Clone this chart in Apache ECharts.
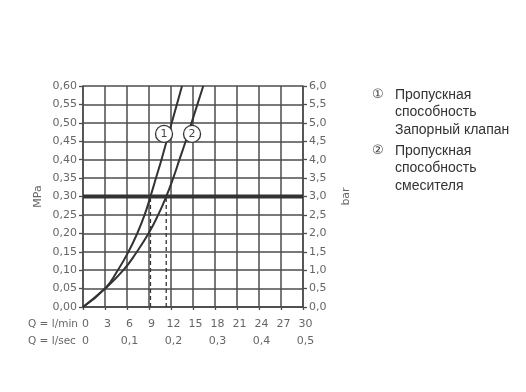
<!DOCTYPE html>
<html>
<head>
<meta charset="utf-8">
<script src="https://cdn.jsdelivr.net/npm/echarts@6/dist/echarts.min.js"></script>
<style>
html,body{margin:0;padding:0;background:#fff;}
#chart{width:526px;height:392px;}
</style>
</head>
<body>
<div id="chart"></div>
<script>
// Pressure levels (MPa)
var pressureMPa = [0, 0.05, 0.10, 0.15, 0.20, 0.25, 0.30, 0.35, 0.40, 0.45, 0.50, 0.55, 0.60];
// Flow (l/min) at each pressure level
var flowCurve1 = [0, 3.0, 4.75, 6.2, 7.4, 8.4, 9.2, 9.95, 10.7, 11.4, 12.1, 12.8, 13.5];
var flowCurve2 = [0, 3.0, 5.5, 7.35, 8.95, 10.25, 11.35, 12.3, 13.15, 14.0, 14.8, 15.6, 16.4];
// Reference pressure and flows read at it
var refPressure = 0.30;
var refFlows = [9.2, 11.35];
// Curve marker labels
var markerNames = ['1', '2'];
var markerFlows = [11.05, 14.87];
var markerPressure = 0.47;
// Legend texts
var legendItems = [
  ['\u2460', 'Пропускная\nспособность\nЗапорный клапан'],
  ['\u2461', 'Пропускная\nспособность\nсмесителя']
];
var rowLabels = ['Q = l/min', 'Q = l/sec'];

function pairs(xs, ys) { return xs.map(function (x, i) { return [x, ys[i]]; }); }

var gridColor = '#4d4d4d';
var lineColor = '#333';
var labelColor = '#666';
var font = 'DejaVu Sans';

var chart = echarts.init(document.getElementById('chart'), null, {renderer: 'canvas'});

var dashedSeries = refFlows.map(function (f) {
  return {
    type: 'line', data: [[f, 0], [f, refPressure]], symbol: 'none', silent: true,
    lineStyle: {color: lineColor, width: 1.3, type: [4, 3]}, z: 3
  };
});

var graphics = [];
rowLabels.forEach(function (t, i) {
  graphics.push({type: 'text', left: 28, top: 319 + i * 17,
    style: {text: t, fill: labelColor, font: '10.5px "' + font + '"'}});
});
legendItems.forEach(function (it, i) {
  var top = 86 + i * 56;
  graphics.push({type: 'text', left: 372, top: top + 2,
    style: {text: it[0], fill: '#444', font: '13px "Liberation Sans"'}});
  graphics.push({type: 'text', left: 395, top: top,
    style: {text: it[1], fill: '#333', font: '14px "Liberation Sans"', lineHeight: 17.5}});
});

chart.setOption({
  animation: false,
  backgroundColor: '#fff',
  grid: {left: 83, top: 86, width: 220, height: 221, containLabel: false},
  xAxis: [{
    type: 'value', min: 0, max: 30, interval: 3, position: 'bottom',
    axisLine: {show: true, onZero: false, lineStyle: {color: gridColor, width: 1.5}},
    axisTick: {show: true, length: 3, lineStyle: {color: gridColor, width: 1.3}},
    splitLine: {show: true, lineStyle: {color: gridColor, width: 1.5}},
    axisLabel: {color: labelColor, fontFamily: font, fontSize: 11, margin: 12, padding: [0, 0, 0, 5]}
  }, {
    type: 'value', min: 0, max: 0.5, interval: 0.1, position: 'bottom', offset: 17,
    axisLine: {show: false}, axisTick: {show: false}, splitLine: {show: false},
    axisLabel: {color: labelColor, fontFamily: font, fontSize: 11, margin: 12, padding: [0, 0, 0, 5],
      formatter: function (v) { return v === 0 ? '0' : v.toFixed(1).replace('.', ','); }}
  }, {
    type: 'value', min: 0, max: 30, position: 'top',
    axisLine: {show: true, lineStyle: {color: gridColor, width: 1.5}},
    axisTick: {show: false}, axisLabel: {show: false}, splitLine: {show: false}
  }],
  yAxis: [{
    type: 'value', min: 0, max: 0.6, interval: 0.05, position: 'left',
    name: 'MPa', nameLocation: 'middle', nameGap: 39, nameRotate: 90,
    nameTextStyle: {color: labelColor, fontFamily: font, fontSize: 11},
    axisLine: {show: true, onZero: false, lineStyle: {color: gridColor, width: 1.5}},
    axisTick: {show: true, length: 4, lineStyle: {color: gridColor, width: 1.3}},
    splitLine: {show: true, lineStyle: {color: gridColor, width: 1.5}},
    axisLabel: {color: labelColor, fontFamily: font, fontSize: 11, margin: 6,
      formatter: function (v) { return v.toFixed(2).replace('.', ','); }}
  }, {
    type: 'value', min: 0, max: 6, interval: 0.5, position: 'right',
    name: 'bar', nameLocation: 'middle', nameGap: 38, nameRotate: 90,
    nameTextStyle: {color: labelColor, fontFamily: font, fontSize: 11},
    axisLine: {show: true, onZero: false, lineStyle: {color: gridColor, width: 1.5}},
    axisTick: {show: true, length: 4, lineStyle: {color: gridColor, width: 1.3}},
    splitLine: {show: false},
    axisLabel: {color: labelColor, fontFamily: font, fontSize: 11, margin: 6,
      formatter: function (v) { return v.toFixed(1).replace('.', ','); }}
  }],
  series: [{
    type: 'line', data: [[0, refPressure], [30, refPressure]], symbol: 'none', silent: true,
    lineStyle: {color: lineColor, width: 4}, z: 4
  }].concat(dashedSeries).concat([{
    type: 'line', data: pairs(flowCurve1, pressureMPa), smooth: 0.5, symbol: 'none',
    lineStyle: {color: lineColor, width: 2}, z: 5
  }, {
    type: 'line', data: pairs(flowCurve2, pressureMPa), smooth: 0.5, symbol: 'none',
    lineStyle: {color: lineColor, width: 2}, z: 5
  }, {
    type: 'scatter', symbol: 'circle', symbolSize: 17, z: 10,
    data: markerFlows.map(function (f, i) { return {value: [f, markerPressure], name: markerNames[i]}; }),
    itemStyle: {color: '#fff', borderColor: lineColor, borderWidth: 1.3, opacity: 1},
    label: {show: true, position: 'inside', formatter: '{b}', color: '#444', fontFamily: font, fontSize: 11}
  }]),
  graphic: graphics
});
</script>
</body>
</html>
